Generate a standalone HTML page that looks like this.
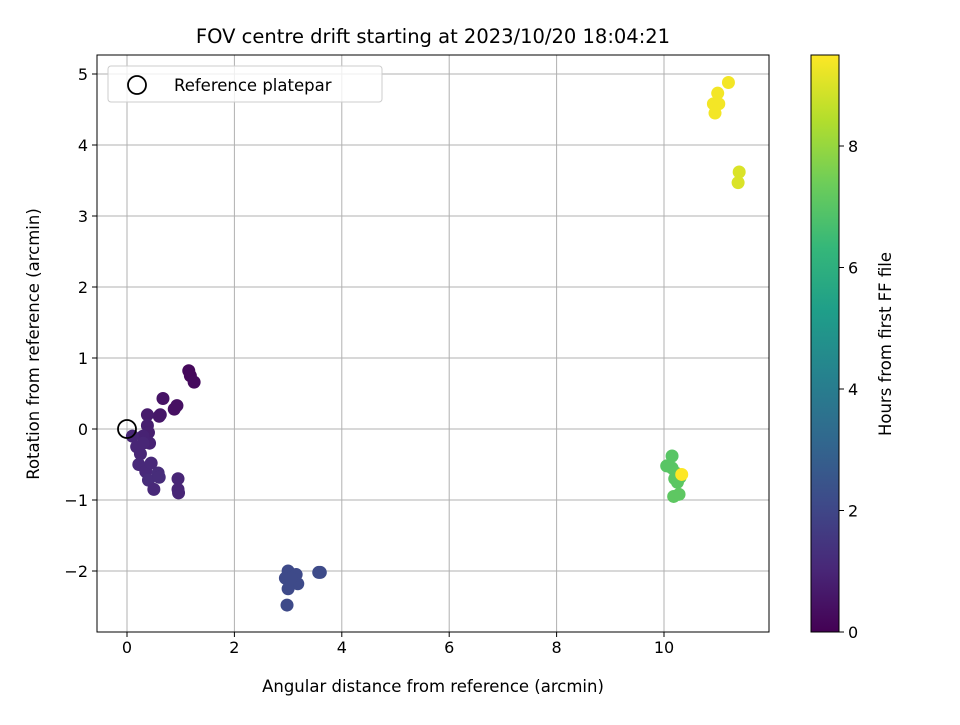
<!DOCTYPE html>
<html><head><meta charset="utf-8"><style>
body{margin:0;background:#fff;font-family:"Liberation Sans","DejaVu Sans",sans-serif;}
svg text{font-family:"DejaVu Sans","Liberation Sans",sans-serif;}
</style></head><body>
<svg id="c" width="960" height="720" xmlns="http://www.w3.org/2000/svg"></svg>
<script>
const xVals=[1.15,1.18,1.25,0.93,0.88,0.67,0.62,0.6,0.38,0.38,0.4,0.42,0.3,0.1,0.18,0.25,0.22,0.35,0.45,0.4,0.58,0.6,0.5,0.95,0.95,0.96,0.3,
3.0,2.95,3.15,3.18,3.0,2.98,3.57,3.6,3.05,
10.05,10.15,10.15,10.2,10.25,10.3,10.18,10.28,10.22,
10.33,11.2,11.0,10.92,11.02,10.95,11.4,11.38];
const yVals=[0.82,0.75,0.66,0.33,0.28,0.43,0.2,0.18,0.2,0.05,-0.05,-0.2,-0.1,-0.1,-0.25,-0.35,-0.5,-0.6,-0.48,-0.72,-0.62,-0.68,-0.85,-0.7,-0.85,-0.9,-0.2,
-2.0,-2.1,-2.05,-2.18,-2.25,-2.48,-2.02,-2.02,-2.1,
-0.52,-0.38,-0.55,-0.7,-0.75,-0.68,-0.95,-0.92,-0.62,
-0.64,4.88,4.73,4.58,4.58,4.45,3.62,3.47];
const hours=[0.2,0.2,0.25,0.4,0.4,0.5,0.6,0.6,0.7,0.8,0.8,0.9,0.9,1.0,1.0,1.0,1.1,1.1,1.1,1.2,1.2,1.2,1.1,1.0,1.0,1.0,1.0,
2.1,2.1,2.1,2.1,2.1,2.1,2.15,2.15,2.1,
7.0,7.0,7.0,7.05,7.05,7.05,7.1,7.1,7.05,
9.5,9.35,9.35,9.35,9.35,9.35,9.0,9.0];
const xTicks=[0,2,4,6,8,10];
const yTicks=[-2,-1,0,1,2,3,4,5];
const cTicks=[0,2,4,6,8];
const L=97,R=769,T=55,B=632;
const sx=v=>127+v*(664-127)/10;
const sy=v=>429-v*(429-74)/5;
const cmax=9.5, cy=v=>632-v*(632-146)/8;
const vir=[[68,1,84],[72,40,120],[62,74,137],[49,104,142],[38,130,142],[31,158,137],[53,183,121],[109,205,89],[180,222,44],[253,231,37]];
function color(h){let t=Math.max(0,Math.min(1,h/cmax))*9;let i=Math.min(8,Math.floor(t)),f=t-i;let a=vir[i],b=vir[i+1];return `rgb(${a.map((v,k)=>Math.round(v+(b[k]-v)*f)).join(',')})`;}
const svg=document.getElementById('c');const NS='http://www.w3.org/2000/svg';
function el(tag,attrs,parent){const e=document.createElementNS(NS,tag);for(const k in attrs)e.setAttribute(k,attrs[k]);(parent||svg).appendChild(e);return e;}
function txt(s,attrs){const e=el('text',attrs);e.textContent=s;return e;}
// grid
xTicks.forEach(v=>{const g=el('line',{x1:sx(v),x2:sx(v),y1:T,y2:B,stroke:'#b0b0b0','stroke-width':1});

});
yTicks.forEach(v=>{const g=el('line',{x1:L,x2:R,y1:sy(v),y2:sy(v),stroke:'#b0b0b0','stroke-width':1});

});
// points
xVals.forEach((x,i)=>{const c=el('circle',{cx:sx(x),cy:sy(yVals[i]),r:6.5,fill:color(hours[i])});

});
// reference
const rp=el('circle',{cx:sx(0),cy:sy(0),r:9,fill:'none',stroke:'#000','stroke-width':1.8});


// frame
const fr=el('rect',{x:L,y:T,width:R-L,height:B-T,fill:'none',stroke:'#000','stroke-width':1});


// ticks
xTicks.forEach(v=>{el('line',{x1:sx(v),x2:sx(v),y1:B,y2:B+5,stroke:'#000'});const t=txt(String(v),{x:sx(v),y:B+21,'text-anchor':'middle','font-size':16});

});
yTicks.forEach(v=>{el('line',{x1:L-5,x2:L,y1:sy(v),y2:sy(v),stroke:'#000'});const t=txt(v<0?'\u2212'+(-v):String(v),{x:L-9,y:sy(v)+6,'text-anchor':'end','font-size':16});

});
// titles
let t=txt('FOV centre drift starting at 2023/10/20 18:04:21',{x:433,y:43,'text-anchor':'middle','font-size':19.5});


t=txt('Angular distance from reference (arcmin)',{x:433,y:692,'text-anchor':'middle','font-size':16.5});


t=txt('Rotation from reference (arcmin)',{x:0,y:0,'text-anchor':'middle','font-size':16.5,transform:'translate(39,344) rotate(-90)'});


// legend
const lg=el('rect',{x:108,y:66,width:274,height:36,rx:3,fill:'#fff','fill-opacity':0.8,stroke:'#ccc'});


el('circle',{cx:137,cy:85,r:9,fill:'none',stroke:'#000','stroke-width':1.8});
t=txt('Reference platepar',{x:174,y:91,'font-size':16.5});


// colorbar
const defs=el('defs',{});const gr=el('linearGradient',{id:'vg',x1:0,y1:1,x2:0,y2:0},defs);
vir.forEach((c,i)=>el('stop',{offset:i/9,'stop-color':`rgb(${c})`},gr));
const cb=el('rect',{x:811,y:55,width:28,height:577,fill:'url(#vg)',stroke:'#000','stroke-width':1});


cTicks.forEach(v=>{el('line',{x1:839,x2:844,y1:cy(v),y2:cy(v),stroke:'#000'});const k=txt(String(v),{x:848,y:cy(v)+6,'font-size':16});

});
t=txt('Hours from first FF file',{x:0,y:0,'text-anchor':'middle','font-size':16.5,transform:'translate(891,344) rotate(-90)'});


</script></body></html>
